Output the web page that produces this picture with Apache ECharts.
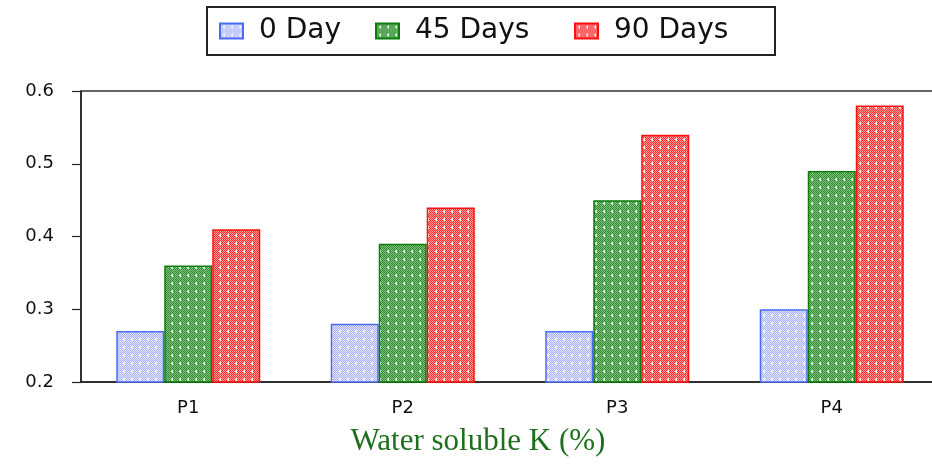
<!DOCTYPE html>
<html>
<head>
<meta charset="utf-8">
<script src="https://cdn.jsdelivr.net/npm/echarts@6/dist/echarts.min.js"></script>
<style>html,body{margin:0;padding:0;background:#fff}#c{width:932px;height:464px}</style>
</head>
<body>
<div id="c"></div>
<script>
var categories = ['P1', 'P2', 'P3', 'P4'];
var seriesNames = ['0 Day', '45 Days', '90 Days'];
var day0 = [0.27, 0.28, 0.27, 0.30];
var day45 = [0.36, 0.39, 0.45, 0.49];
var day90 = [0.41, 0.44, 0.54, 0.58];
var yTicks = [0.2, 0.3, 0.4, 0.5, 0.6];

function makePattern(dark, light, dot) {
  var cv = document.createElement('canvas');
  cv.width = 8; cv.height = 8;
  var ctx = cv.getContext('2d');
  for (var y = 0; y < 8; y++) {
    for (var x = 0; x < 8; x++) {
      ctx.fillStyle = ((x + y) % 2 === 0) ? dark : light;
      ctx.fillRect(x, y, 1, 1);
    }
  }
  ctx.fillStyle = dot;
  ctx.fillRect(3, 3, 2, 1);
  ctx.fillRect(4, 2, 1, 3);
  return { image: cv, repeat: 'repeat' };
}

var fills = [
  makePattern('#a9b1f7', '#e2e5fd', '#f4f5ff'),
  makePattern('#2f8a2f', '#86c486', '#e6f3e6'),
  makePattern('#ff3030', '#ff9c9c', '#fff0f0')
];
var borders = ['#4a6cf2', '#0a7d0a', '#ff1010'];
var dataSets = [day0, day45, day90];
var legendLeft = [219, 375, 574];

var chart = echarts.init(document.getElementById('c'), null, { renderer: 'canvas' });
var series = seriesNames.map(function (n, i) {
  return {
    name: n,
    type: 'bar',
    xAxisIndex: 0,
    data: dataSets[i],
    barWidth: 48,
    barGap: '0%',
    itemStyle: { color: fills[i], borderColor: borders[i], borderWidth: 1.5 }
  };
});

var legends = seriesNames.map(function (n, i) {
  return {
    data: [n],
    left: legendLeft[i],
    top: 17,
    padding: 0,
    itemWidth: 23,
    itemHeight: 15,
    icon: 'rect',
    textStyle: { fontFamily: 'DejaVu Sans', fontSize: 28, color: '#111', padding: [2, 0, 0, 11] }
  };
});

chart.setOption({
  animation: false,
  textStyle: { fontFamily: 'DejaVu Sans' },
  legend: legends,
  graphic: [{
    type: 'rect',
    shape: { x: 207, y: 7, width: 568, height: 48 },
    style: { fill: 'none', stroke: '#222', lineWidth: 2 },
    silent: true
  }],
  grid: {
    left: 81, top: 91, bottom: 82, width: 858,
    outerBoundsMode: 'none',
    containLabel: false,
    show: true, borderColor: '#333', borderWidth: 1.5, backgroundColor: 'transparent'
  },
  xAxis: [{
    type: 'category',
    data: categories,
    axisLine: { lineStyle: { color: '#222', width: 1.5 } },
    axisTick: { alignWithLabel: true, length: 7, lineStyle: { color: '#222', width: 1.5 } },
    axisLabel: { margin: 17, fontSize: 18, color: '#111', fontFamily: 'DejaVu Sans' },
    name: 'Water soluble K (%)',
    nameLocation: 'middle',
    nameGap: 44,
    nameTextStyle: { fontFamily: 'Liberation Serif', fontSize: 31, color: '#1d6e1d', padding: [0, 64, 0, 0] }
  }, {
    type: 'category',
    data: categories,
    position: 'bottom',
    axisLine: { show: false },
    axisTick: { length: 4, lineStyle: { color: '#222', width: 1.2 } },
    axisLabel: { show: false }
  }],
  yAxis: {
    type: 'value',
    min: yTicks[0],
    max: yTicks[yTicks.length - 1],
    interval: 0.1,
    splitLine: { show: false },
    axisLine: { show: true, lineStyle: { color: '#222', width: 1.5 } },
    axisTick: { show: true, length: 9, lineStyle: { color: '#222', width: 1.2 } },
    axisLabel: { margin: 27, fontSize: 18, color: '#111', fontFamily: 'DejaVu Sans',
      formatter: function (v) { return v.toFixed(1); } }
  },
  series: series
});
</script>
</body>
</html>
